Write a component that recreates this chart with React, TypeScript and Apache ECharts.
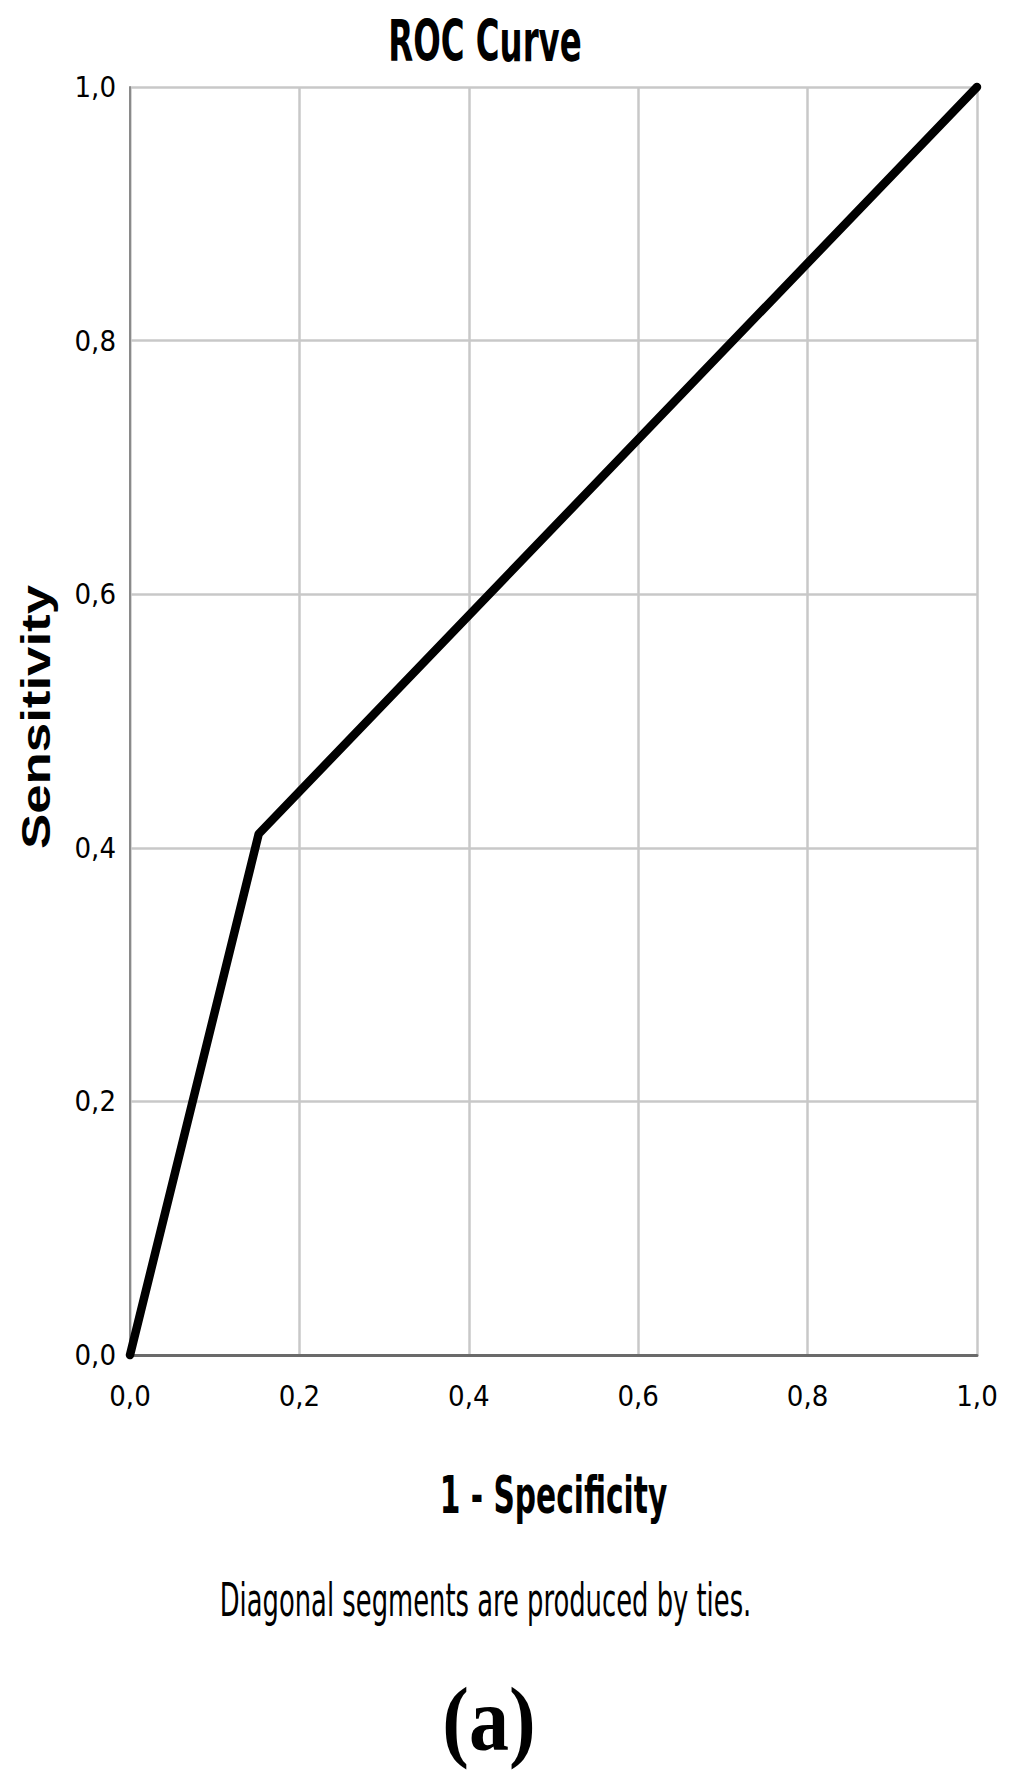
import React, { useEffect, useRef } from "react";
import * as echarts from "echarts";

// ROC curve points (1 - Specificity, Sensitivity)
const fprValues = [0, 0.152, 1];
const tprValues = [0, 0.411, 1];
const axisTicks = [0, 0.2, 0.4, 0.6, 0.8, 1.0];

const titleText = "ROC Curve";
const xAxisTitle = "1 - Specificity";
const yAxisTitle = "Sensitivity";
const footnoteText = "Diagonal segments are produced by ties.";
const panelLabel = "(a)";

const NARROW = "'Liberation Sans Narrow', 'Arial Narrow', 'DejaVu Sans Condensed', sans-serif";
const SANS = "'Liberation Sans', Arial, 'DejaVu Sans', sans-serif";
const SERIF = "'Liberation Serif', 'Times New Roman', 'DejaVu Serif', serif";

const fmt = (v: number) => v.toFixed(1).replace(".", ",");

export default function App() {
  const ref = useRef<HTMLDivElement>(null);

  useEffect(() => {
    document.body.style.margin = "0";
    const chart = echarts.init(ref.current!, undefined, { renderer: "svg" });
    const points = fprValues.map((x, i) => [x, tprValues[i]]);
    chart.setOption({
      animation: false,
      backgroundColor: "#ffffff",
      grid: { left: 130, right: 37, top: 87, bottom: 421, containLabel: false },
      xAxis: {
        type: "value",
        min: axisTicks[0],
        max: axisTicks[axisTicks.length - 1],
        interval: 0.2,
        axisLine: { show: true, lineStyle: { color: "#6a6a6a", width: 3 } },
        axisTick: { show: false },
        axisLabel: {
          formatter: fmt,
          fontFamily: NARROW,
          fontSize: 29,
          color: "#000",
          margin: 26,
        },
        splitLine: { show: true, lineStyle: { color: "#c8c8c8", width: 2.5 } },
      },
      yAxis: {
        type: "value",
        min: axisTicks[0],
        max: axisTicks[axisTicks.length - 1],
        interval: 0.2,
        axisLine: { show: true, lineStyle: { color: "#8a8a8a", width: 2 } },
        axisTick: { show: false },
        axisLabel: {
          formatter: fmt,
          fontFamily: NARROW,
          fontSize: 29,
          color: "#000",
          margin: 14,
          padding: [10, 0, 0, 0],
        },
        splitLine: { show: true, lineStyle: { color: "#c8c8c8", width: 2.5 } },
      },
      series: [
        {
          type: "line",
          data: points,
          symbol: "none",
          clip: false,
          lineStyle: { color: "#000", width: 8.5, cap: "round", join: "round" },
        },
      ],
      graphic: [
        {
          type: "text",
          x: 485,
          y: 41,
          scaleY: 1.56,
          style: {
            text: titleText,
            fontFamily: NARROW,
            fontWeight: "bold",
            fontSize: 36,
            fill: "#000",
            align: "center",
            verticalAlign: "middle",
          },
        },
        {
          type: "text",
          x: 553.5,
          y: 1495,
          scaleY: 1.58,
          style: {
            text: xAxisTitle,
            fontFamily: NARROW,
            fontWeight: "bold",
            fontSize: 33,
            fill: "#000",
            align: "center",
            verticalAlign: "middle",
          },
        },
        {
          type: "text",
          x: 36,
          y: 717,
          rotation: Math.PI / 2,
          scaleX: 1.32,
          style: {
            text: yAxisTitle,
            fontFamily: SANS,
            fontWeight: "bold",
            fontSize: 40,
            fill: "#000",
            align: "center",
            verticalAlign: "middle",
          },
        },
        {
          type: "text",
          x: 485.5,
          y: 1600,
          scaleY: 1.58,
          style: {
            text: footnoteText,
            fontFamily: NARROW,
            fontSize: 28.7,
            fill: "#000",
            align: "center",
            verticalAlign: "middle",
          },
        },
        {
          type: "text",
          x: 489,
          y: 1719,
          scaleY: 1.15,
          style: {
            text: panelLabel,
            fontFamily: SERIF,
            fontWeight: "bold",
            fontSize: 80,
            fill: "#000",
            align: "center",
            verticalAlign: "middle",
          },
        },
      ],
    });
    return () => chart.dispose();
  }, []);

  return (
    <div
      ref={ref}
      style={{ position: "absolute", left: 0, top: 0, width: 1014, height: 1776 }}
    />
  );
}
